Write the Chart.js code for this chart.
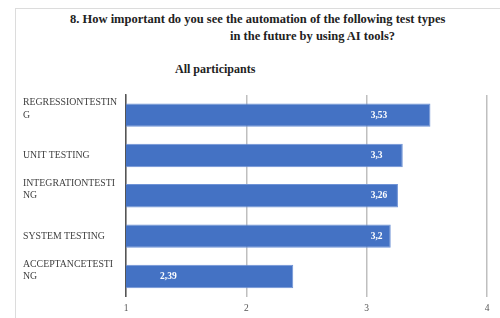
<!DOCTYPE html>
<html>
<head>
<meta charset="utf-8">
<script src="https://cdn.jsdelivr.net/npm/chart.js@4/dist/chart.umd.min.js"></script>
<style>
  body { margin: 0; background: #fff; }
  #wrap { position: relative; width: 500px; height: 318px; overflow: hidden; font-family: "Liberation Serif", "DejaVu Serif", serif; }
  #frame { position: absolute; left: 15px; top: 8px; width: 500px; height: 320px; border-left: 1px solid #dcdcdc; border-top: 1px solid #dcdcdc; }
  .t { position: absolute; font-weight: bold; font-size: 12.5px; color: #222; white-space: nowrap; }
  #chart { position: absolute; left: 0; top: 0; }
</style>
</head>
<body>
<div id="wrap">
  <div id="frame"></div>
  <div class="t" style="left:70px; top:12px;">8. How important do you see the automation of the following test types</div>
  <div class="t" style="left:230px; top:29px;">in the future by using AI tools?</div>
  <div class="t" style="left:175px; top:62px; font-size:12px;">All participants</div>
  <canvas id="chart" width="500" height="318"></canvas>
</div>
<script>
var categories = [
    ['REGRESSIONTESTIN', 'G', ''],
    ['UNIT TESTING'],
    ['INTEGRATIONTESTI', 'NG', ''],
    ['SYSTEM TESTING'],
    ['ACCEPTANCETESTI', 'NG', '']
];
var values = [3.53, 3.3, 3.26, 3.2, 2.39];
var valueLabels = ['3,53', '3,3', '3,26', '3,2', '2,39'];
var xTicks = [1, 2, 3, 4];

var serif = '"Liberation Serif", "DejaVu Serif", serif';

// white value labels inside the bars
var barLabels = {
    id: 'barLabels',
    afterDatasetsDraw: function (chart) {
        var ctx = chart.ctx;
        var xs = chart.scales.x;
        var meta = chart.getDatasetMeta(0);
        ctx.save();
        ctx.fillStyle = '#ffffff';
        ctx.font = 'bold 9.5px ' + serif;
        ctx.textAlign = 'left';
        ctx.textBaseline = 'middle';
        meta.data.forEach(function (bar, i) {
            var x = values[i] >= 3 ? xs.getPixelForValue(3) + 4 : xs.left + 34;
            ctx.fillText(valueLabels[i], x, bar.y);
        });
        ctx.restore();
    }
};

var ctx = document.getElementById('chart').getContext('2d');
var chart = new Chart(ctx, {
    type: 'bar',
    data: {
        labels: categories,
        datasets: [{
            data: values,
            backgroundColor: '#4472c4',
            borderColor: '#6f93d6',
            borderWidth: 1,
            categoryPercentage: 1,
            barPercentage: 0.58
        }]
    },
    options: {
        indexAxis: 'y',
        responsive: false,
        animation: false,
        layout: { padding: { left: 23, right: 13, top: 95, bottom: 0 } },
        plugins: {
            legend: { display: false },
            tooltip: { enabled: false }
        },
        scales: {
            x: {
                min: 1,
                max: 4,
                afterBuildTicks: function (s) { s.ticks = xTicks.map(v => ({ value: v })); },
                afterFit: function (s) { s.height = 21; },
                grid: { color: '#bfbfbf', lineWidth: 1.5, drawTicks: false },
                border: { display: false },
                ticks: { color: '#555', padding: 6, font: { family: serif, size: 9.5 } }
            },
            y: {
                afterFit: function (s) { s.width = 103; },
                grid: { display: false },
                border: { display: true, color: '#555', width: 1.5 },
                ticks: {
                    crossAlign: 'far',
                    color: '#404040',
                    font: { family: serif, size: 9.8, lineHeight: 1.25 }
                }
            }
        }
    },
    plugins: [barLabels]
});
</script>
</body>
</html>
